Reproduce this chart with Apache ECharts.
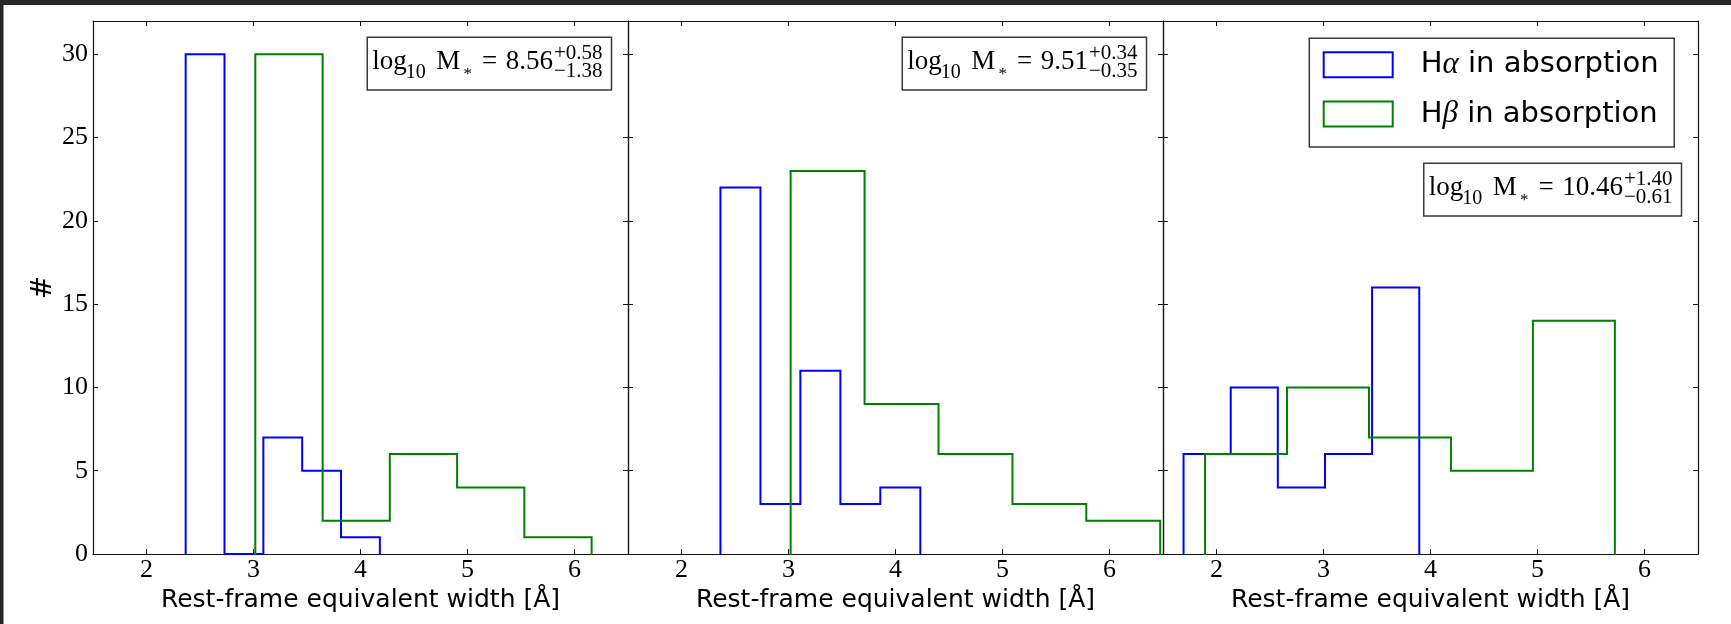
<!DOCTYPE html>
<html><head><meta charset="utf-8">
<script src="https://cdn.jsdelivr.net/npm/echarts@6/dist/echarts.min.js"></script>
<style>html,body{margin:0;padding:0;background:#fff;}#c{width:1731px;height:624px;}</style>
</head><body><div id="c"></div>
<script>
// ---- data ----
const xTicks = [2, 3, 4, 5, 6];
const yTicks = [0, 5, 10, 15, 20, 25, 30];
const xName = 'Rest-frame equivalent width [Å]';
const yName = '#';
const seriesNames = ['Hα in absorption', 'Hβ in absorption'];

const p1HaEdges = [2.366, 2.729, 3.092, 3.455, 3.818, 4.181];
const p1HaCounts = [30, 0, 7, 5, 1];
const p1HbEdges = [3.017, 3.646, 4.274, 4.903, 5.531, 6.160];
const p1HbCounts = [30, 2, 6, 4, 1];

const p2HaEdges = [2.364, 2.738, 3.111, 3.485, 3.858, 4.232];
const p2HaCounts = [22, 3, 11, 3, 4];
const p2HbEdges = [3.020, 3.711, 4.402, 5.093, 5.783, 6.474];
const p2HbCounts = [23, 9, 6, 3, 2];

const p3HaEdges = [1.692, 2.133, 2.573, 3.014, 3.454, 3.895];
const p3HaCounts = [6, 10, 4, 6, 16];
const p3HbEdges = [1.893, 2.659, 3.425, 4.191, 4.957, 5.723];
const p3HbCounts = [6, 10, 7, 5, 14];

const massValues = ['8.56', '9.51', '10.46'];
const massUp = ['+0.58', '+0.34', '+1.40'];
const massLo = ['\u22121.38', '\u22120.35', '\u22120.61'];

// ---- layout ----
const gridLeft = [93, 628, 1163];
const gridW = 535, gridTop = 21, gridH = 533;
const colors = ['#0000ff', '#008000'];
const panels = [
  [[p1HaEdges, p1HaCounts], [p1HbEdges, p1HbCounts]],
  [[p2HaEdges, p2HaCounts], [p2HbEdges, p2HbCounts]],
  [[p3HaEdges, p3HaCounts], [p3HbEdges, p3HbCounts]]
];

function stepPts(edges, counts) {
  const pts = [[edges[0], 0]];
  for (let i = 0; i < counts.length; i++) {
    pts.push([edges[i], counts[i]]);
    pts.push([edges[i + 1], counts[i]]);
  }
  pts.push([edges[edges.length - 1], 0]);
  return pts;
}

const axisLineStyle = { color: '#111', width: 1.2 };
const serifF = '"Liberation Serif", "Times New Roman", serif';
const grids = [], xAxes = [], yAxes = [], series = [];
for (let i = 0; i < 3; i++) {
  grids.push({ left: gridLeft[i], top: gridTop, width: gridW, height: gridH, outerBoundsMode: 'none', containLabel: false });
  const tick = { show: true, inside: true, length: 5, lineStyle: { color: '#111', width: 1 } };
  xAxes.push({
    gridIndex: i, type: 'value', min: 1.5, max: 6.5, position: 'bottom',
    axisLine: { show: true, onZero: false, lineStyle: axisLineStyle },
    axisTick: Object.assign({ customValues: xTicks }, tick),
    axisLabel: { show: true, customValues: xTicks, margin: 3, color: '#000', fontFamily: serifF, fontSize: 26 },
    splitLine: { show: false },
    name: xName, nameLocation: 'middle', nameGap: 33,
    nameTextStyle: { fontFamily: '"DejaVu Sans", sans-serif', fontSize: 25, color: '#000' }
  });
  xAxes.push({
    gridIndex: i, type: 'value', min: 1.5, max: 6.5, position: 'top',
    axisLine: { show: true, onZero: false, lineStyle: axisLineStyle },
    axisTick: Object.assign({ customValues: xTicks }, tick),
    axisLabel: { show: false }, splitLine: { show: false }
  });
  yAxes.push({
    gridIndex: i, type: 'value', min: 0, max: 32, position: 'left',
    axisLine: { show: true, onZero: false, lineStyle: axisLineStyle },
    axisTick: Object.assign({ customValues: yTicks }, tick),
    axisLabel: { show: i === 0, customValues: yTicks, margin: 5, color: '#000', fontFamily: serifF, fontSize: 26 },
    splitLine: { show: false },
    name: i === 0 ? yName : '', nameLocation: 'middle', nameGap: 35, nameRotate: 90,
    nameTextStyle: { fontFamily: '"DejaVu Serif", serif', fontSize: 28, color: '#000' }
  });
  yAxes.push({
    gridIndex: i, type: 'value', min: 0, max: 32, position: 'right',
    axisLine: { show: true, onZero: false, lineStyle: axisLineStyle },
    axisTick: Object.assign({ customValues: yTicks }, tick),
    axisLabel: { show: false }, splitLine: { show: false }
  });
  for (let s = 0; s < 2; s++) {
    series.push({
      type: 'line', name: seriesNames[s], xAxisIndex: 2 * i, yAxisIndex: 2 * i,
      data: stepPts(panels[i][s][0], panels[i][s][1]),
      symbol: 'none', showSymbol: false, silent: true, clip: true,
      lineStyle: { color: colors[s], width: 2, join: 'miter', cap: 'square' },
      itemStyle: { color: colors[s] }, z: 3 + s
    });
  }
}

// ---- annotation boxes ----
const mctx = document.createElement('canvas').getContext('2d');
function meas(font, text) {
  mctx.font = font; mctx.textBaseline = 'alphabetic';
  const a = mctx.measureText(text);
  mctx.textBaseline = 'middle';
  const m = mctx.measureText(text);
  return { w: a.width, off: a.actualBoundingBoxAscent - m.actualBoundingBoxAscent, ascMid: m.actualBoundingBoxAscent };
}
function txt(str, font, x, baseline) {
  const m = meas(font, str);
  return { type: 'text', x: x, y: baseline - m.off, z: 20,
    style: { text: str, font: font, fill: '#000', align: 'left', verticalAlign: 'middle' } };
}
const panelRight = [628, 1163, 1698];
const boxTops = [37.3, 37.3, 163.3];
const graphics = [
  { type: 'rect', shape: { x: 0, y: 0, width: 1731, height: 5 }, style: { fill: '#262626' }, z: 50 },
  { type: 'rect', shape: { x: 0, y: 0, width: 3.5, height: 624 }, style: { fill: '#262626' }, z: 50 }
];
for (let i = 0; i < 3; i++) {
  const fMain = '27px ' + serifF, fTen = '20px ' + serifF, fSS = '21px ' + serifF, fAst = '17px ' + serifF;
  const numW = meas(fMain, massValues[i]).w;
  const upW = meas(fSS, massUp[i]).w, loW = meas(fSS, massLo[i]).w;
  const offs = { log: 0, ten: 33.4, M: 64, ast: 91.2, eq: 109.7, num: 133.4 };
  const ssX = offs.num + numW + 1;
  const textW = ssX + Math.max(upW, loW);
  const padL = 5, padR = 9;
  const boxW = padL + textW + padR;
  const boxX = panelRight[i] - 16.5 - boxW;
  const x0 = boxX + padL;
  const top = boxTops[i];
  const B = top + 32;
  graphics.push({ type: 'rect', z: 19, shape: { x: boxX, y: top, width: boxW, height: 52.7 },
    style: { fill: '#fff', stroke: '#3a3a3a', lineWidth: 1.5 } });
  graphics.push(txt('log', fMain, x0 + offs.log, B));
  graphics.push(txt('10', fTen, x0 + offs.ten, B + 8.4));
  graphics.push(txt('M', fMain, x0 + offs.M, B));
  const am = meas(fAst, '*');
  graphics.push({ type: 'text', x: x0 + offs.ast, y: B - 1.5 + am.ascMid, z: 20,
    style: { text: '*', font: fAst, fill: '#000', align: 'left', verticalAlign: 'middle' } });
  graphics.push(txt('=', fMain, x0 + offs.eq, B));
  graphics.push(txt(massValues[i], fMain, x0 + offs.num, B));
  graphics.push(txt(massUp[i], fSS, x0 + ssX, top + 22));
  graphics.push(txt(massLo[i], fSS, x0 + ssX, top + 39.4));
}

const chart = echarts.init(document.getElementById('c'), null, { renderer: 'canvas' });
chart.setOption({
  animation: false,
  backgroundColor: '#fff',
  grid: grids, xAxis: xAxes, yAxis: yAxes, series: series,
  legend: {
    left: 1309.3, top: 38.3, orient: 'vertical', align: 'left',
    itemWidth: 69, itemHeight: 25, itemGap: 18.3,
    padding: [10.9, 15.7, 17.5, 13.4],
    backgroundColor: '#fff', borderColor: '#3a3a3a', borderWidth: 1.5, borderRadius: 0,
    selectedMode: false,
    data: [
      { name: seriesNames[0], icon: 'rect', itemStyle: { color: 'rgba(0,0,0,0)', borderColor: colors[0], borderWidth: 2 } },
      { name: seriesNames[1], icon: 'rect', itemStyle: { color: 'rgba(0,0,0,0)', borderColor: colors[1], borderWidth: 2 } }
    ],
    formatter: function (name) {
      const g = name.charAt(1);
      return '{h|H}{g|' + g + '}{t|' + name.slice(2) + '}';
    },
    textStyle: {
      rich: {
        h: { fontFamily: '"DejaVu Sans", sans-serif', fontSize: 29, lineHeight: 30, color: '#000', padding: [0, 0, 0, 23] },
        g: { fontFamily: serifF, fontStyle: 'italic', fontSize: 31, lineHeight: 30, color: '#000' },
        t: { fontFamily: '"DejaVu Sans", sans-serif', fontSize: 29, lineHeight: 30, color: '#000' }
      }
    }
  },
  graphic: { elements: graphics }
});
</script>
</body></html>
